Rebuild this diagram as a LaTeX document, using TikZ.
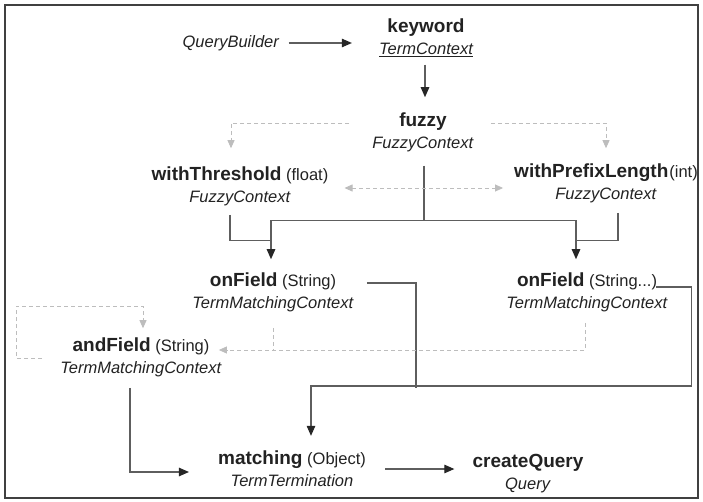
\documentclass[tikz,border=0pt]{standalone}
\usepackage{fontspec}
\setmainfont{Liberation Sans}
\usetikzlibrary{arrows.meta,calc}

\newcommand{\mname}[1]{{\fontsize{19}{22}\selectfont\bfseries #1}}
\definecolor{linegray}{HTML}{5E5E5E}
\definecolor{optgray}{HTML}{BDBDBD}
\definecolor{textdark}{HTML}{222222}

\begin{document}
\begin{tikzpicture}[x=1pt, y=-1pt,
    meth/.style={align=center, inner sep=0pt, text=textdark, font=\fontsize{16.5}{22}\selectfont},
    flow/.style={draw=linegray, line width=1.1pt},
    link/.style={flow, -{Triangle[length=10pt, width=8.5pt, color=black!85]}},
    optline/.style={draw=optgray, line width=0.8pt, dash pattern=on 4pt off 3pt},
    opt/.style={optline, -{Triangle[length=8pt, width=7pt, color=optgray]}},
    optboth/.style={optline, {Triangle[length=8pt, width=7pt, color=optgray]}-{Triangle[length=8pt, width=7pt, color=optgray]}}]
      \useasboundingbox (0, 0) rectangle (703, 502);
      \draw [draw=black!75, line width=1.4pt] (5, 5) rectangle (698, 498);

      \node [meth] (qb) at (231, 43) {\textit{QueryBuilder}};
      \node [meth] (kw) at (426, 37.5) {\mname{keyword}\\\textit{\underline{TermContext}}};
      \node [meth] (fz) at (423, 132.5) {\mname{fuzzy}\\\textit{FuzzyContext}};
      \node [meth] (wt) at (240, 186) {\mname{withThreshold} (float)\\\textit{FuzzyContext}};
      \node [meth] (wp) at (606, 183) {\mname{withPrefixLength}\kern1pt(int)\\\textit{FuzzyContext}};
      \node [meth] (of1) at (273, 292) {\mname{onField} (String)\\\textit{TermMatchingContext}};
      \node [meth] (of2) at (587, 292.5) {\mname{onField} (String...)\\\textit{TermMatchingContext}};
      \node [meth] (af) at (141, 357.5) {\mname{andField} (String)\\\textit{TermMatchingContext}};
      \node [meth] (ma) at (292, 468.5) {\mname{matching} (Object)\\\textit{TermTermination}};
      \node [meth] (cq) at (528, 473.5) {\mname{createQuery}\\\textit{Query}};

      % main chain
      \draw [link] ($(qb.east)+(9, 0)$) -- ($(qb.east -| kw.west)+(-27, 0)$);
      \draw [link] ($(kw.south)+(-1, 8)$) -- ($(kw.south |- fz.north)+(-1, -15.5)$);
      \draw [link] ($(fz.south)+(1, 13.5)$) |- ($(of1.north)+(-2, -52)$) -- ($(of1.north)+(-2, -13)$);
      \draw [link] ($(fz.south)+(1, 13.5)$) |- ($(of2.north)+(-11, -52.5)$) -- ($(of2.north)+(-11, -13.5)$);
      \draw [flow] ($(wt.south)+(-10, 9)$) |- ($(of1.north)+(-2, -32)$);
      \draw [flow] ($(wp.south)+(12, 10)$) |- ($(of2.north)+(-11, -32.5)$);
      \draw [flow] ($(of1.east)+(13, -9)$) -| ($(ma.north)+(124, -62.5)$);
      \draw [link] ($(of2.east)+(-12, -5.5)$) -| ($(of2.east)+(24, 93.5)$) -| ($(ma.north)+(19, -14.5)$);
      \draw [link] ($(af.south)+(-11, 10.5)$) |- ($(ma.west)+(-29, 3.5)$);
      \draw [link] ($(ma.east)+(19, 0.5)$) -- ($(ma.east -| cq.west)+(-18, 0.5)$);

      % optional steps
      \draw [opt] ($(fz.west)+(-23, -9.5)$) -| ($(wt.north)+(-9, -18)$);
      \draw [opt] ($(fz.east)+(17, -9.5)$) -| ($(wp.north)+(0, -15)$);
      \draw [optboth] ($(wt.east)+(16, 2)$) -- ($(wt.east -| wp.west)+(-11, 2)$);
      \draw [opt] ($(of2.south)+(-2, 10.5)$) |- ($(af.east)+(-3, -7.5)$);
      \draw [optline] ($(of1.south)+(0, 16)$) -- ($(of1.south |- af.east)+(0, -7.5)$);
      \draw [opt] ($(af.west)+(-18, 0.5)$) -| ($(af.north)+(-125, -31.5)$) -| ($(af.north)+(2, -9.5)$);
    \end{tikzpicture}
\end{document}
